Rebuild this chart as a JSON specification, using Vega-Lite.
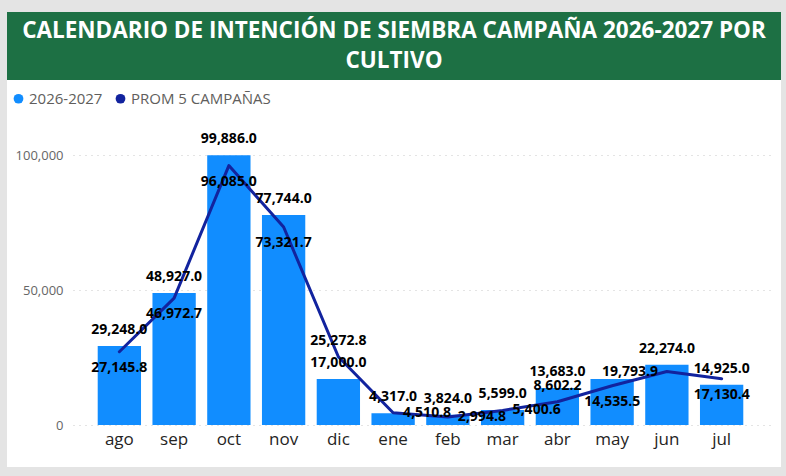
{
  "$schema": "https://vega.github.io/schema/vega-lite/v6.json",
  "background": "#e4e4e4",
  "padding": {"left": 7, "top": 12, "right": 5, "bottom": 9},
  "autosize": {"type": "pad"},
  "spacing": 0,
  "config": {
    "font": "Open Sans",
    "view": {"stroke": null}
  },
  "datasets": {
    "siembra": [
      {"mes": "ago", "campana": 29248.0, "prom5": 27145.8},
      {"mes": "sep", "campana": 48927.0, "prom5": 46972.7},
      {"mes": "oct", "campana": 99886.0, "prom5": 96085.0},
      {"mes": "nov", "campana": 77744.0, "prom5": 73321.7},
      {"mes": "dic", "campana": 17000.0, "prom5": 25272.8},
      {"mes": "ene", "campana": 4317.0, "prom5": 4510.8},
      {"mes": "feb", "campana": 3824.0, "prom5": 2994.8},
      {"mes": "mar", "campana": 5599.0, "prom5": 5400.6},
      {"mes": "abr", "campana": 13683.0, "prom5": 8602.2},
      {"mes": "may", "campana": 17050.0, "prom5": 14535.5},
      {"mes": "jun", "campana": 22274.0, "prom5": 19793.9},
      {"mes": "jul", "campana": 14925.0, "prom5": 17130.4}
    ]
  },
  "vconcat": [
    {
      "width": 774,
      "height": 68,
      "view": {"fill": "#1D7044", "stroke": null},
      "data": {"values": [{}]},
      "mark": {
        "type": "text",
        "font": "Open Sans",
        "fontWeight": 700,
        "fontSize": 22.5,
        "color": "#ffffff",
        "align": "center",
        "baseline": "middle",
        "lineHeight": 30,
        "dy": -15
      },
      "encoding": {
        "text": {"value": ["CALENDARIO DE INTENCIÓN DE SIEMBRA CAMPAÑA 2026-2027 POR", "CULTIVO"]}
      }
    },
    {
      "width": 774,
      "height": 387,
      "view": {"fill": "#ffffff", "stroke": null},
      "data": {"name": "siembra"},
      "encoding": {
        "x": {
          "field": "mes",
          "type": "nominal",
          "sort": null,
          "scale": {"range": [66, 766], "paddingInner": 0.209, "paddingOuter": 0.497, "align": 0.454},
          "axis": {
            "title": null,
            "orient": "bottom",
            "offset": -42,
            "domain": false,
            "ticks": false,
            "labelAngle": 0,
            "labelFontSize": 17,
            "labelColor": "#252423",
            "labelPadding": 6
          }
        }
      },
      "layer": [
        {
          "mark": {"type": "bar"},
          "encoding": {
            "y": {
              "field": "campana",
              "type": "quantitative",
              "scale": {"domain": [0, 100000], "range": [345, 75], "nice": false},
              "axis": {
                "title": null,
                "values": [0, 50000, 100000],
                "format": ",d",
                "offset": -66,
                "ticks": false,
                "domain": false,
                "labelPadding": 10,
                "labelFontSize": 13,
                "labelColor": "#666666",
                "grid": true,
                "gridColor": "#c8c8c8",
                "gridDash": [1, 5],
                "gridWidth": 1
              }
            },
            "color": {
              "datum": "2026-2027",
              "type": "nominal",
              "scale": {"domain": ["2026-2027", "PROM 5 CAMPAÑAS"], "range": ["#118DFF", "#12239E"]},
              "legend": {
                "title": null,
                "orient": "none",
                "direction": "horizontal",
                "legendX": 4,
                "legendY": 79,
                "symbolType": "circle",
                "symbolSize": 95,
                "symbolStrokeWidth": 0,
                "labelFontSize": 15,
                "labelColor": "#605E5C",
                "labelOffset": 3,
                "columnPadding": 10
              }
            }
          }
        },
        {
          "mark": {"type": "line", "strokeWidth": 3, "strokeJoin": "round", "strokeCap": "round"},
          "encoding": {
            "y": {"field": "prom5", "type": "quantitative", "title": null},
            "color": {"datum": "PROM 5 CAMPAÑAS", "type": "nominal", "legend": null}
          }
        },
        {
          "transform": [{"filter": "datum.mes != 'may'"}],
          "mark": {"type": "text", "dy": -16, "fontSize": 14, "fontWeight": 700, "color": "#000000", "baseline": "middle"},
          "encoding": {
            "y": {"field": "campana", "type": "quantitative", "title": null},
            "text": {"field": "campana", "type": "quantitative", "format": ",.1f"}
          }
        },
        {
          "transform": [{"filter": "indexof(['ago','sep','oct','nov','may','jul'], datum.mes) >= 0"}],
          "mark": {"type": "text", "dy": 16, "fontSize": 14, "fontWeight": 700, "color": "#000000", "baseline": "middle"},
          "encoding": {
            "y": {"field": "prom5", "type": "quantitative", "title": null},
            "text": {"field": "prom5", "type": "quantitative", "format": ",.1f"}
          }
        },
        {
          "transform": [{"filter": "indexof(['dic','abr'], datum.mes) >= 0"}],
          "mark": {"type": "text", "dy": -16, "fontSize": 14, "fontWeight": 700, "color": "#000000", "baseline": "middle"},
          "encoding": {
            "y": {"field": "prom5", "type": "quantitative", "title": null},
            "text": {"field": "prom5", "type": "quantitative", "format": ",.1f"}
          }
        },
        {
          "transform": [{"filter": "indexof(['ene','feb','mar'], datum.mes) >= 0"}],
          "mark": {"type": "text", "dx": 34, "fontSize": 14, "fontWeight": 700, "color": "#000000", "baseline": "middle"},
          "encoding": {
            "y": {"field": "prom5", "type": "quantitative", "title": null},
            "text": {"field": "prom5", "type": "quantitative", "format": ",.1f"}
          }
        },
        {
          "transform": [{"filter": "datum.mes == 'jun'"}],
          "mark": {"type": "text", "dx": -37, "fontSize": 14, "fontWeight": 700, "color": "#000000", "baseline": "middle"},
          "encoding": {
            "y": {"field": "prom5", "type": "quantitative", "title": null},
            "text": {"field": "prom5", "type": "quantitative", "format": ",.1f"}
          }
        }
      ]
    }
  ]
}
